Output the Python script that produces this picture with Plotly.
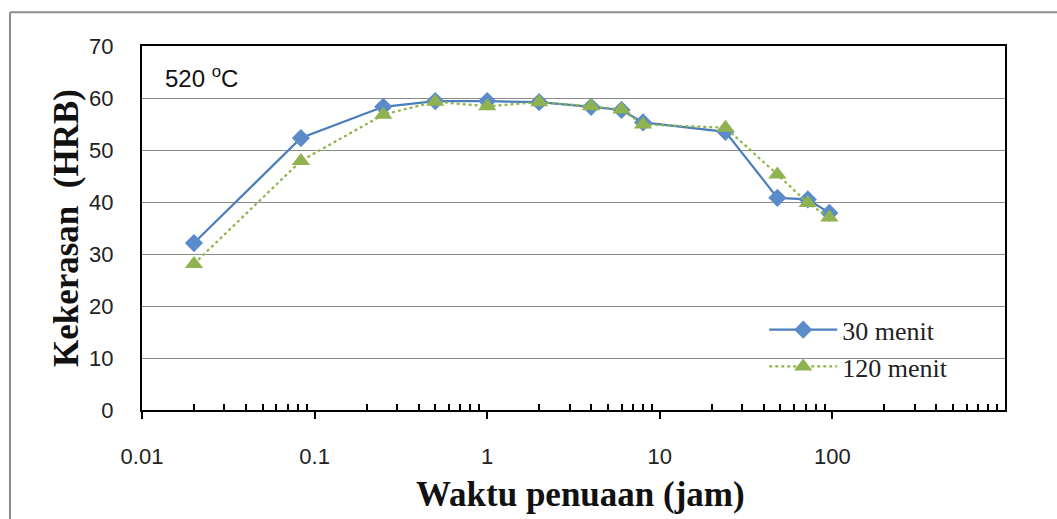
import plotly.graph_objects as go

hours = [0.02, 0.0833, 0.25, 0.5, 1, 2, 4, 6, 8, 24, 48, 72, 96]
hrb_30 = [32.1, 52.3, 58.3, 59.4, 59.4, 59.2, 58.3, 57.7, 55.3, 53.5, 40.8, 40.5, 37.9]
hrb_120 = [28.1, 47.9, 56.8, 59.3, 58.4, 59.2, 58.4, 57.8, 54.9, 54.3, 45.3, 39.8, 37.0]
y_ticks = [0, 10, 20, 30, 40, 50, 60, 70]
x_ticks = [0.01, 0.1, 1, 10, 100]
x_tick_labels = ["0.01", "0.1", "1", "10", "100"]
x_minor = [m * d for d in [0.01, 0.1, 1, 10, 100] for m in range(2, 10)]

fig = go.Figure()
fig.add_trace(go.Scatter(
    x=hours, y=hrb_30, name="30 menit", mode="lines+markers",
    line=dict(color="#4A7EBB", width=2.2),
    marker=dict(symbol="diamond", size=14, color="#5B8BC9"),
))
fig.add_trace(go.Scatter(
    x=hours, y=hrb_120, name="120 menit", mode="lines+markers",
    line=dict(color="#8DB54A", width=2.2, dash="dot"),
    marker=dict(symbol="triangle-up", size=16, color="#8FB350"),
))

fig.update_layout(
    width=1057, height=519,
    margin=dict(l=142, r=52, t=46, b=109),
    paper_bgcolor="white", plot_bgcolor="white",
    showlegend=True,
    legend=dict(x=0.721, y=0.285, xanchor="left", yanchor="top",
                font=dict(family="Liberation Serif", size=26, color="#222"),
                bgcolor="rgba(0,0,0,0)", tracegroupgap=0, itemwidth=68),
    xaxis=dict(
        type="log", range=[-2, 3],
        tickvals=x_ticks, ticktext=x_tick_labels,
        ticks="outside", ticklen=7, tickwidth=2, tickcolor="black",
        ticklabelstandoff=19,
        minor=dict(tickvals=x_minor, ticks="inside", ticklen=6, tickwidth=1.5,
                   tickcolor="black", showgrid=False),
        showline=True, linecolor="black", linewidth=2, mirror=True,
        showgrid=False, zeroline=False,
        tickfont=dict(family="Liberation Sans", size=22, color="#222"),
    ),
    yaxis=dict(
        range=[0, 70], tickvals=y_ticks,
        ticks="", showline=True, linecolor="black", linewidth=2, mirror=True,
        showgrid=True, gridcolor="#8A8A8A", gridwidth=1, zeroline=False,
        ticklabelstandoff=22,
        tickfont=dict(family="Liberation Sans", size=22, color="#222"),
    ),
    annotations=[
        dict(text="520 <sup>o</sup>C", xref="paper", yref="paper", x=0.024, y=0.915,
             xanchor="left", yanchor="middle", showarrow=False,
             font=dict(family="Liberation Sans", size=24, color="#111")),
        dict(text="<b>Waktu penuaan (jam)</b>", xref="paper", yref="paper",
             x=0.508, y=-0.233, xanchor="center", yanchor="middle", showarrow=False,
             font=dict(family="Liberation Serif", size=35, color="#111")),
        dict(text="<b>Kekerasan  (HRB)</b>", xref="paper", yref="paper",
             x=-0.088, y=0.5, xanchor="center", yanchor="middle", showarrow=False,
             textangle=-90,
             font=dict(family="Liberation Serif", size=35, color="#111")),
    ],
    shapes=[
        dict(type="line", xref="paper", yref="paper", x0=-0.153, x1=-0.153, y0=1.093, y1=-0.35,
             line=dict(color="#8C8C8C", width=2)),
        dict(type="line", xref="paper", yref="paper", x0=-0.153, x1=1.1, y0=1.093, y1=1.093,
             line=dict(color="#8C8C8C", width=2)),
    ],
)

fig.write_html("out.html")
